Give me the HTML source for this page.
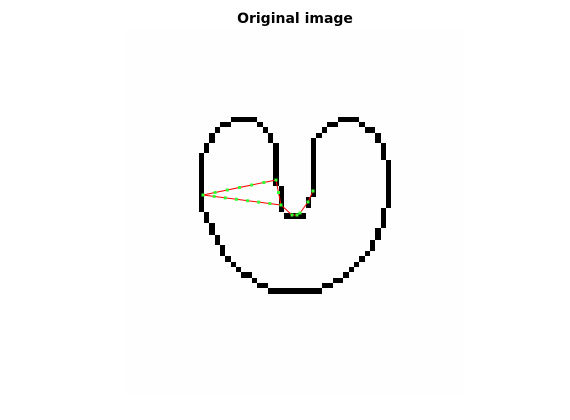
<!DOCTYPE html>
<html><head><meta charset="utf-8"><style>
html,body{margin:0;padding:0;background:#fff;width:570px;height:420px;overflow:hidden}
</style></head><body>
<svg width="570" height="420" xmlns="http://www.w3.org/2000/svg">
<rect x="0" y="0" width="570" height="420" fill="#fff"/>
<rect x="125" y="30" width="340" height="365" fill="#fefefe"/>
<text x="295" y="23" text-anchor="middle" font-family="DejaVu Sans, sans-serif" font-weight="bold" font-size="14">Original image</text>
<g id="boundary" fill="#000"></g>
<g id="contour"></g>
</svg>
<script>
const rects=[[231,117,257,122],[220,122,231,127],[257,122,263,127],[215,127,220,133],[263,127,268,133],[209,133,215,143],[268,133,273,143],[204,143,209,153],[273,143,279,186],[199,153,204,212],[279,186,284,212],[204,212,209,223],[209,223,215,235],[215,235,220,245],[220,245,225,256],[225,256,231,262],[231,262,236,267],[236,267,241,272],[241,272,252,278],[252,278,257,283],[257,283,268,288],[268,288,322,294],[322,283,333,288],[333,278,343,283],[343,272,349,278],[349,267,354,272],[354,262,359,267],[359,256,365,262],[365,251,370,256],[370,240,375,251],[375,228,381,240],[381,208,386,228],[386,160,391,208],[381,143,386,160],[375,133,381,143],[365,127,375,133],[359,122,365,127],[338,117,359,122],[327,122,338,127],[322,127,327,133],[316,133,322,138],[311,138,316,197],[306,197,311,208],[284,213,306,219]];
const ns="http://www.w3.org/2000/svg";
const g=document.getElementById('boundary');
rects.forEach(r=>{const e=document.createElementNS(ns,'rect');
e.setAttribute('x',r[0]);e.setAttribute('y',r[1]);e.setAttribute('width',r[2]-r[0]);e.setAttribute('height',r[3]-r[1]);


g.appendChild(e);});
const px=[276,203,281,292,297,300,308,313];
const py=[180,195,205,215,215,213,202,191];
const c=document.getElementById('contour');
const pts=[[276,180],[203,195],[281,205],[276,180]];
const pts2=[[281,205],[292,215],[297,215],[300,213],[308,202],[313,191]];
function line(p){const e=document.createElementNS(ns,'polyline');
e.setAttribute('points',p.map(q=>q.join(',')).join(' '));e.setAttribute('fill','none');e.setAttribute('stroke','#f00');e.setAttribute('stroke-width','1');


c.appendChild(e);}
line(pts);line(pts2);
function dots(a,b,n){for(let i=0;i<=n;i++){const x=a[0]+(b[0]-a[0])*i/n,y=a[1]+(b[1]-a[1])*i/n;
const d=document.createElementNS(ns,'rect');d.setAttribute('x',x-1.5);d.setAttribute('y',y-1.5);d.setAttribute('width',3);d.setAttribute('height',3);d.setAttribute('fill','#3f3');


c.appendChild(d);}}
dots([203,195],[276,180],6);dots([203,195],[281,205],7);dots([276,180],[281,205],2);
for(let i=0;i<pts2.length-1;i++)dots(pts2[i],pts2[i+1],1);
</script>
</body></html>
